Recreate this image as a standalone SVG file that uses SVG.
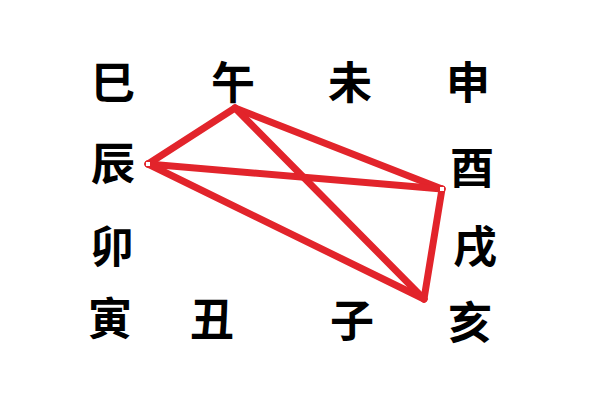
<svg xmlns="http://www.w3.org/2000/svg" width="600" height="400" viewBox="0 0 600 400">
<style>
.n text{font-family:"Noto Sans CJK SC","Noto Sans CJK TC",sans-serif;font-size:44px;font-weight:bold;fill:#000;text-anchor:middle;dominant-baseline:central}
.e line{stroke:#e2242b;stroke-width:7;stroke-linecap:round}
.dot{fill:#fff}
</style>
<rect width="600" height="400" fill="#fff"/>
<g class="e" id="connectors">
<line x1="235" y1="108" x2="148" y2="164"/>
<line x1="235" y1="108" x2="442" y2="189"/>
<line x1="148" y1="164" x2="442" y2="189"/>
<line x1="148" y1="164" x2="424" y2="299"/>
<line x1="235" y1="108" x2="424" y2="299"/>
<line x1="442" y1="189" x2="424" y2="299"/>
<rect class="dot" x="146" y="162" width="4" height="4"/>
<rect class="dot" x="440" y="187" width="4" height="4"/>
</g>
<g class="n" id="si"><text x="113" y="80">巳</text></g>
<g class="n" id="wu"><text x="233" y="80">午</text></g>
<g class="n" id="wei"><text x="350" y="80">未</text></g>
<g class="n" id="shen"><text x="468" y="80">申</text></g>
<g class="n" id="chen"><text x="113" y="161">辰</text></g>
<g class="n" id="you"><text x="472" y="165">酉</text></g>
<g class="n" id="mao"><text x="112" y="244">卯</text></g>
<g class="n" id="xu"><text x="475" y="244">戌</text></g>
<g class="n" id="yin"><text x="110" y="316">寅</text></g>
<g class="n" id="chou"><text x="212" y="317">丑</text></g>
<g class="n" id="zi"><text x="352" y="318">子</text></g>
<g class="n" id="hai"><text x="470" y="320">亥</text></g>
</svg>
